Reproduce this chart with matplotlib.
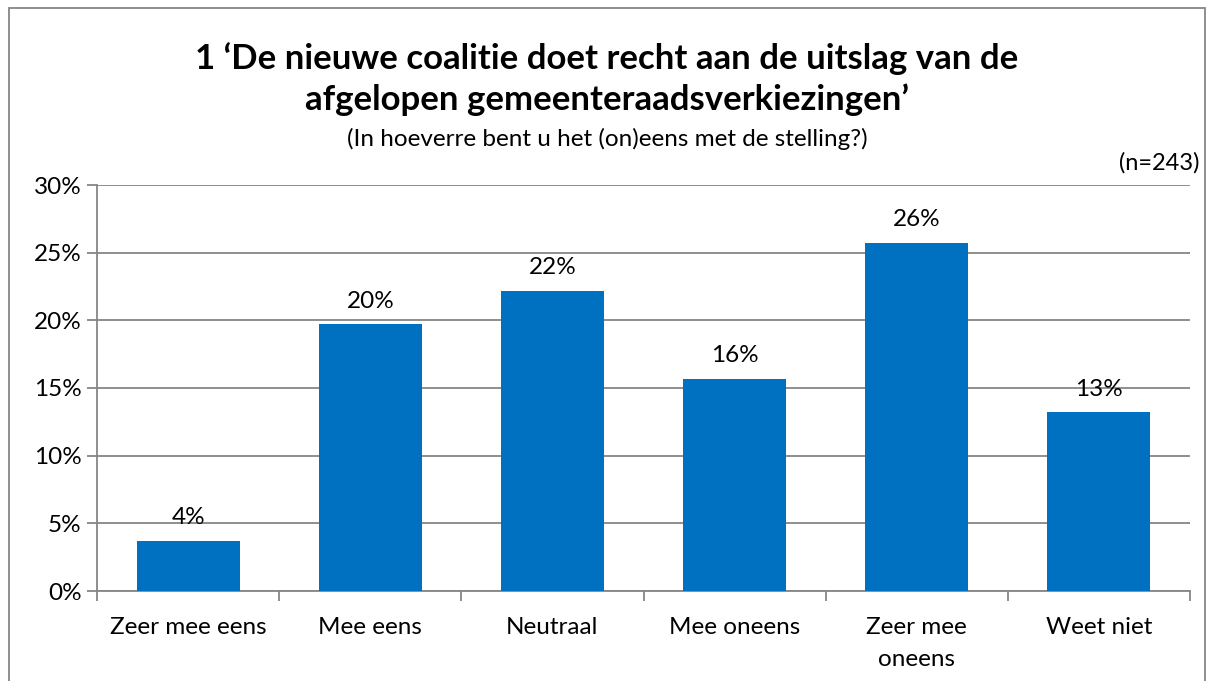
import matplotlib.pyplot as plt
from matplotlib.patches import Rectangle
from matplotlib.ticker import FuncFormatter

categories = ["Zeer mee eens", "Mee eens", "Neutraal", "Mee oneens", "Zeer mee\noneens", "Weet niet"]
values = [3.7, 19.7, 22.2, 15.7, 25.7, 13.2]
labels = ["4%", "20%", "22%", "16%", "26%", "13%"]

plt.rcParams["font.family"] = ["Lato", "DejaVu Sans"]

fig = plt.figure(figsize=(12.14, 6.81), dpi=100)
ax = fig.add_axes([97 / 1214, 1 - 591 / 681, (1190 - 97) / 1214, (591 - 185) / 681])

grid_col = "#868686"
fs = 17.5
x = range(len(categories))
bars = ax.bar(x, values, width=0.565, color="#0070C0", zorder=3)
for b, lab in zip(bars, labels):
    ax.text(b.get_x() + b.get_width() / 2, b.get_height() + 0.95, lab,
            ha="center", va="bottom", fontsize=fs)

ax.set_xlim(-0.5, len(categories) - 0.5)
ax.set_ylim(0, 30)
ax.set_yticks(range(0, 31, 5))
ax.yaxis.set_major_formatter(FuncFormatter(lambda v, p: f"{v:.0f}%"))
ax.grid(axis="y", color=grid_col, linewidth=1.3, zorder=0)

ax.set_xticks([i - 0.5 for i in range(len(categories) + 1)], minor=False)
ax.set_xticklabels([])
ax.set_xticks(list(x), minor=True)
ax.set_xticklabels(categories, minor=True, fontsize=fs, linespacing=1.65)
ax.tick_params(axis="x", which="major", length=7, color=grid_col, width=1.3)
ax.tick_params(axis="x", which="minor", length=0, pad=19)
ax.tick_params(axis="y", length=7, color=grid_col, width=1.3, labelsize=fs, pad=4)

for s in ["top", "right"]:
    ax.spines[s].set_visible(False)
for s in ["left", "bottom"]:
    ax.spines[s].set_color(grid_col)
    ax.spines[s].set_linewidth(1.3)

fig.text(0.5, 1 - 79 / 681, "1 \u2018De nieuwe coalitie doet recht aan de uitslag van de\nafgelopen gemeenteraadsverkiezingen\u2019",
         ha="center", va="center", fontsize=25, fontweight="bold", linespacing=1.3)
fig.text(0.5, 1 - 139 / 681, "(In hoeverre bent u het (on)eens met de stelling?)",
         ha="center", va="center", fontsize=17.5)
fig.text(1200 / 1214, 1 - 163 / 681, "(n=243)", ha="right", va="center", fontsize=17)

fig.patches.append(Rectangle((9 / 1214, -0.01), 1196 / 1214, 1 - 8 / 681 + 0.01,
                             transform=fig.transFigure, fill=False,
                             edgecolor=grid_col, linewidth=1.3))

fig.savefig("out.png", dpi=100)
